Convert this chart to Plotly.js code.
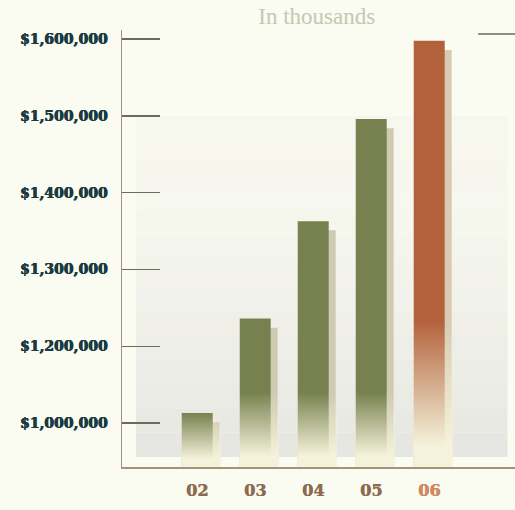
<!DOCTYPE html>
<html>
<head>
<meta charset="utf-8">
<script src="https://cdn.plot.ly/plotly-3.0.1.min.js"></script>
<style>
  html, body { margin: 0; padding: 0; background: #fafbf1; }
  #chart { width: 515px; height: 510px; }
</style>
</head>
<body>
<div id="chart"></div>
<script>
// ---- data (in thousands) ----
const years = ['02', '03', '04', '05', '06'];
const values = [1113000, 1236000, 1363000, 1496000, 1598000];
const yTickVals = [1100000, 1200000, 1300000, 1400000, 1500000, 1600000];
const yTickText = ['$1,000,000', '$1,200,000', '$1,300,000', '$1,400,000', '$1,500,000', '$1,600,000'];
const highlightYear = '06';

// ---- style ----
const BG = '#fafbf1';
const GREEN = '#77814f';
const ORANGE = '#b3613b';
const SHADOW_GREEN = '#cfcab2';
const SHADOW_ORANGE = '#d8cbb2';
const CREAM = '244,242,218';
const Y_MIN = 1042700, Y_MAX = 1612000;
const X_MIN = -1.297, X_MAX = 5.479;
const BAR_W = 0.534, SHADOW_DX = 0.12, SHADOW_DY = 12000;

const xIdx = years.map((_, i) => i);
const isHi = years.map(y => y === highlightYear);
const barColors = isHi.map(h => h ? ORANGE : GREEN);
const shadowColors = isHi.map(h => h ? SHADOW_ORANGE : SHADOW_GREEN);

const traces = [];
// shadow bars
traces.push({
  type: 'bar', x: xIdx, y: values.map(v => v - SHADOW_DY),
  width: BAR_W, offset: -BAR_W / 2 + SHADOW_DX,
  marker: { color: shadowColors, line: { width: 0 } },
  hoverinfo: 'skip', showlegend: false
});
// main bars
traces.push({
  type: 'bar', x: xIdx, y: values,
  width: BAR_W, offset: -BAR_W / 2,
  marker: { color: barColors, line: { width: 0 } },
  hovertemplate: '%{y:$,.0f}<extra></extra>', showlegend: false
});
// fade-out overlays at the foot of each bar
xIdx.forEach((i, k) => {
  const top = Math.min(values[k], isHi[k] ? 1234000 : 1140000);
  const x0 = i - BAR_W / 2 - 0.01, x1 = i + BAR_W / 2 + SHADOW_DX + 0.02;
  traces.push({
    type: 'scatter', mode: 'none', fill: 'toself',
    x: [x0, x1, x1, x0, x0], y: [Y_MIN, Y_MIN, top, top, Y_MIN],
    fillgradient: {
      type: 'vertical', start: Y_MIN, stop: top,
      colorscale: [[0, 'rgba(' + CREAM + ',1)'], [0.15, 'rgba(' + CREAM + ',1)'], [1, 'rgba(' + CREAM + ',0)']]
    },
    hoverinfo: 'skip', showlegend: false
  });
});

// grey background panel drawn as stepped strips (fading upward)
const shapes = [];
const pY0 = 1055700, pY1 = 1500000, N = 14;
for (let s = 0; s < N; s++) {
  const a = pY0 + (pY1 - pY0) * s / N;
  const b = pY0 + (pY1 - pY0) * (s + 1) / N;
  const t = 1 - s / N;
  shapes.push({
    type: 'rect', layer: 'below', xref: 'x', yref: 'y',
    x0: -1.055, x1: 5.35, y0: a, y1: b,
    fillcolor: '#e6e6e2', opacity: 0.15 + 0.85 * t * t, line: { width: 0 }
  });
}
// short rule at top right
shapes.push({
  type: 'line', xref: 'paper', yref: 'paper', x0: 0.906, x1: 1.0, y0: 0.991, y1: 0.991,
  line: { color: '#6e6a60', width: 1.5 }
});

const layout = {
  width: 515, height: 510,
  margin: { l: 122, r: 0, t: 30, b: 43 },
  paper_bgcolor: BG, plot_bgcolor: BG,
  barmode: 'overlay',
  title: {
    text: 'In thousands', xref: 'container', yref: 'container',
    x: 0.615, xanchor: 'center', y: 0.969, yanchor: 'middle',
    font: { family: 'Liberation Serif', size: 23, color: '#c4c8b3' }
  },
  xaxis: {
    range: [X_MIN, X_MAX], fixedrange: true,
    tickmode: 'array', tickvals: xIdx,
    ticktext: years.map((y, k) => isHi[k] ? '<span style="color:#d9885b">' + y + '</span>' : y),
    ticks: '', showgrid: false, zeroline: false,
    showline: true, linecolor: '#a8917a', linewidth: 2,
    ticklabelstandoff: 8,
    tickfont: { family: 'DejaVu Serif', size: 16, color: '#8e6b4f', weight: 'bold',
                shadow: '0.4px 0 0 #8e6b4f' }
  },
  yaxis: {
    range: [Y_MIN, Y_MAX], fixedrange: true,
    tickmode: 'array', tickvals: yTickVals, ticktext: yTickText,
    ticks: 'inside', ticklen: 38, tickwidth: 1.5, tickcolor: '#6e6a60',
    showgrid: false, zeroline: false,
    showline: true, linecolor: '#a8917a', linewidth: 1.5,
    ticklabelstandoff: 10,
    tickfont: { family: 'DejaVu Serif', size: 14, color: '#1a3a41', weight: 'bold',
                shadow: '0.5px 0 0 #1a3a41, -0.3px 0 0 #1a3a41' }
  },
  shapes: shapes,
  showlegend: false
};

Plotly.newPlot('chart', traces, layout, { displayModeBar: false, staticPlot: true });
</script>
</body>
</html>
